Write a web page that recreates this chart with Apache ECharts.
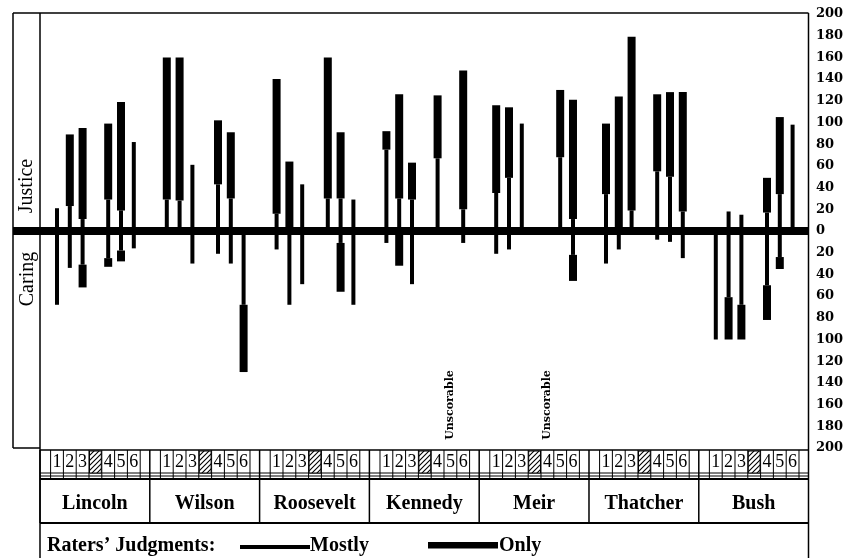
<!DOCTYPE html>
<html>
<head>
<meta charset="utf-8">
<script src="https://cdn.jsdelivr.net/npm/echarts@6/dist/echarts.min.js"></script>
<style>html,body{margin:0;padding:0;background:#fff}#c{width:856px;height:558px}</style>
</head>
<body>
<div id="c"></div>
<script>
// ---------------- data ----------------
const leaders = ['Lincoln', 'Wilson', 'Roosevelt', 'Kennedy', 'Meir', 'Thatcher', 'Bush'];
const raters = ['1', '2', '3', '4', '5', '6'];
const raterSlots = [0, 1, 2, 4, 5, 6];           // slot 3 is the hatched column
const yTickLabels = [200,180,160,140,120,100,80,60,40,20,0,20,40,60,80,100,120,140,160,180,200];

// Justice (upwards): "Mostly" thin line reaches this value; "Only" thick bar from there to the second value
const justiceMostly = [
  [21, 23, 11, 29, 19, 82],
  [29, 28, 61, 43, 30, 0],
  [16, 0, 43, 30, 30, 29],
  [75, 30, 29, 67, null, 20],
  [35, 49, 99, null, 68, 11],
  [34, 0, 19, 55, 50, 18],
  [0, 18, 15, 17, 34, 98]
];
const justiceOnly = [
  [null, 89, 95, 99, 119, null],
  [160, 160, null, 102, 91, null],
  [140, 64, null, 160, 91, null],
  [92, 126, 63, 125, null, 148],
  [116, 114, null, null, 130, 121],
  [99, 124, 179, 126, 128, 128],
  [null, null, null, 49, 105, null]
];
// Caring (downwards)
const caringMostly = [
  [68, 34, 31, 25, 18, 16],
  [0, 0, 30, 21, 30, 68],
  [17, 68, 49, 0, 11, 68],
  [11, 0, 49, 0, null, 11],
  [21, 17, 0, null, 0, 22],
  [30, 17, 0, 8, 10, 25],
  [100, 61, 68, 50, 24, 0]
];
const caringOnly = [
  [null, null, 52, 33, 28, null],
  [null, null, null, null, null, 130],
  [null, null, null, null, 56, null],
  [null, 32, null, null, null, null],
  [null, null, null, null, null, 46],
  [null, null, null, null, null, null],
  [null, 100, 100, 82, 35, null]
];
const unscorable = [['Kennedy', 5], ['Meir', 4]];
const legendTitle = 'Raters\u2019 Judgments:';
const legendItems = ['Mostly', 'Only'];

// ---------------- layout ----------------
const GROUP = 8.578, OFF = 1.328, XMAX = 60;
function slotX(g, slot) { return g * GROUP + OFF + slot; }

const thinData = [], thickData = [];
leaders.forEach((name, g) => {
  raters.forEach((r, i) => {
    const x = slotX(g, raterSlots[i]);
    [[justiceMostly, justiceOnly, 1], [caringMostly, caringOnly, -1]].forEach(([M, O, s]) => {
      const m = M[g][i], o = O[g][i];
      if (m) thinData.push([x, 0, s * m]);
      if (o != null) thickData.push([x, s * (m || 0), s * o]);
    });
  });
});

function rectRender(w) {
  return function (params, api) {
    const x = api.value(0);
    const p1 = api.coord([x, api.value(1)]);
    const p2 = api.coord([x, api.value(2)]);
    return {
      type: 'rect',
      shape: { x: p1[0] - w / 2, y: Math.min(p1[1], p2[1]), width: w, height: Math.abs(p1[1] - p2[1]) },
      style: { fill: '#000' }
    };
  };
}

const chart = echarts.init(document.getElementById('c'), null, { renderer: 'canvas' });
chart.setOption({
  animation: false,
  backgroundColor: '#fff',
  grid: { left: 40, right: 48, top: 14, bottom: 110 },
  xAxis: { type: 'value', min: 0, max: XMAX, show: false },
  yAxis: {
    type: 'value', min: -200, max: 200, interval: 20, position: 'right',
    axisLine: { show: false }, axisTick: { show: false }, splitLine: { show: false },
    axisLabel: {
      margin: 8, color: '#000', fontFamily: 'DejaVu Serif', fontWeight: 'bold', fontSize: 13,
      formatter: v => String(yTickLabels[Math.round((200 - v) / 20)])
    }
  },
  series: [
    { type: 'custom', renderItem: rectRender(4), data: thinData, clip: false, z: 3 },
    { type: 'custom', renderItem: rectRender(8), data: thickData, clip: false, z: 4 }
  ]
});

// ---------------- frame, table and legend ----------------
const px = v => chart.convertToPixel({ xAxisIndex: 0 }, v);
const y0 = chart.convertToPixel({ yAxisIndex: 0 }, 0);
const L = 13, PL = 40, R = 808.5, T = 13, PB = 448, BOT = 558;
const ROW1T = 450, ROW1D1 = 473, ROW1D2 = 476, ROW1B = 479, ROW2B = 523;
const serif = '"Liberation Serif", "Times New Roman", serif';
const g = [];
const line = (x1, y1, x2, y2, w) => g.push({ type: 'line', shape: { x1, y1, x2, y2 }, style: { stroke: '#000', lineWidth: w || 1 }, z: 10 });
const text = (t, x, y, font, align, rot) => g.push({ type: 'text', x, y, rotation: rot || 0, style: { text: t, x: 0, y: 0, font, fill: '#000', align: align || 'center', verticalAlign: 'middle' }, z: 11 });

// zero band
g.push({ type: 'rect', shape: { x: L, y: y0 - 4, width: R - L, height: 8 }, style: { fill: '#000' }, z: 9 });
// outer frame
line(L, T, R, T, 1.5);
line(L, T, L, PB, 1.5);
line(PL, T, PL, BOT, 1.5);
line(R, T, R, BOT, 1.5);
line(L, PB, PL, PB, 1.5);
// side labels
text('Justice', 27, 186, '20px ' + serif, 'center', Math.PI / 2);
text('Caring', 28, 279, '20px ' + serif, 'center', Math.PI / 2);

// hatch pattern
const pc = document.createElement('canvas');
pc.width = 5; pc.height = 5;
const pctx = pc.getContext('2d');
pctx.fillStyle = '#fff'; pctx.fillRect(0, 0, 5, 5);
pctx.strokeStyle = '#000'; pctx.lineWidth = 1.1;
pctx.beginPath();
pctx.moveTo(-1, 6); pctx.lineTo(6, -1);
pctx.moveTo(-1, 1); pctx.lineTo(1, -1);
pctx.moveTo(4, 6); pctx.lineTo(6, 4);
pctx.stroke();

// table rows
line(PL, ROW1T, R, ROW1T, 1.5);
line(PL, ROW1D1, R, ROW1D1, 1);
line(PL, ROW1D2, R, ROW1D2, 1);
line(PL, ROW1B, R, ROW1B, 2);
line(PL, ROW2B, R, ROW2B, 2);
const halfSlot = (px(1) - px(0)) / 2;
leaders.forEach((name, gi) => {
  const gx = px(gi * GROUP);
  const gx2 = px((gi + 1) * GROUP);
  line(gx, ROW1T, gx, ROW2B, gi === 0 ? 1.5 : 1.5);
  for (let s = 0; s <= 7; s++) {
    const bx = px(slotX(gi, s)) - halfSlot;
    line(bx, ROW1T, bx, ROW1B, 1);
  }
  // hatched cell
  const hx = px(slotX(gi, 3)) - halfSlot;
  g.push({ type: 'rect', shape: { x: hx + 0.5, y: ROW1T + 1, width: halfSlot * 2 - 1, height: ROW1D1 - ROW1T - 1 },
           style: { fill: { image: pc, repeat: 'repeat' }, stroke: '#000', lineWidth: 1 }, z: 10 });
  raters.forEach((r, i) => text(r, px(slotX(gi, raterSlots[i])), 462, '18px ' + serif, 'center'));
  text(name, (gx + gx2) / 2, 504, 'bold 20px ' + serif, 'center');
});

// unscorable marks
unscorable.forEach(([name, r]) => {
  const gi = leaders.indexOf(name);
  const x = px(slotX(gi, raterSlots[raters.indexOf(String(r))]));
  text('Unscorable', x, 405, 'bold 11px "DejaVu Serif", serif', 'center', Math.PI / 2);
});

// legend
text(legendTitle, 47, 546, 'bold 20px ' + serif, 'left');
g.push({ type: 'rect', shape: { x: 240, y: 545, width: 70, height: 4 }, style: { fill: '#000' }, z: 10 });
text(legendItems[0], 310, 546, 'bold 20px ' + serif, 'left');
g.push({ type: 'rect', shape: { x: 428, y: 542, width: 70, height: 6.5 }, style: { fill: '#000' }, z: 10 });
text(legendItems[1], 499, 546, 'bold 20px ' + serif, 'left');

chart.setOption({ graphic: { elements: g } });
</script>
</body>
</html>
